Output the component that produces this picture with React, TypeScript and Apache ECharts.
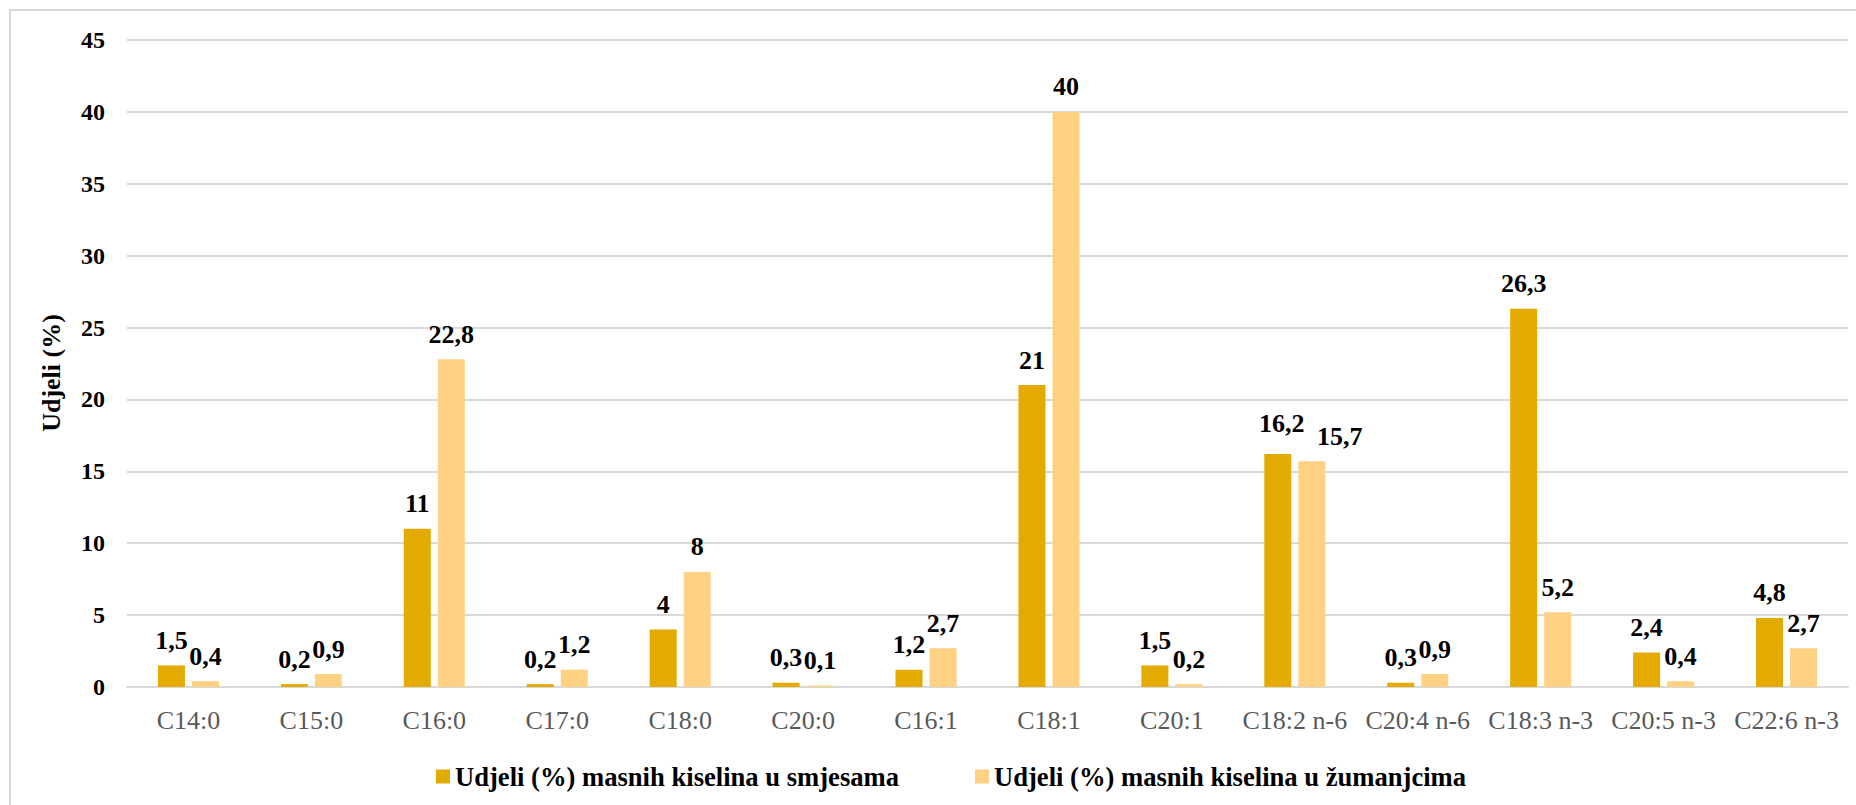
import React, { useEffect, useRef } from "react";
import * as echarts from "echarts";

const categories = [
  "C14:0", "C15:0", "C16:0", "C17:0", "C18:0", "C20:0", "C16:1",
  "C18:1", "C20:1", "C18:2 n-6", "C20:4 n-6", "C18:3 n-3", "C20:5 n-3", "C22:6 n-3",
];
const smjesama = [1.5, 0.2, 11, 0.2, 4, 0.3, 1.2, 21, 1.5, 16.2, 0.3, 26.3, 2.4, 4.8];
const zumanjcima = [0.4, 0.9, 22.8, 1.2, 8, 0.1, 2.7, 40, 0.2, 15.7, 0.9, 5.2, 0.4, 2.7];
const seriesNames = [
  "Udjeli (%) masnih kiselina u smjesama",
  "Udjeli (%) masnih kiselina u žumanjcima",
];
const yAxisName = "Udjeli (%)";

const FONT = "'Liberation Serif', 'Times New Roman', serif";

export default function App() {
  const ref = useRef<HTMLDivElement>(null);
  useEffect(() => {
    if (!ref.current) return;
    const chart = echarts.init(ref.current, undefined, { renderer: "svg" });
    const fmt = (p: any) => String(p.value).replace(".", ",");
    const labelBase = {
      show: true,
      position: "top",
      distance: 12,
      color: "#000",
      fontFamily: FONT,
      fontWeight: "bold",
      fontSize: 26,
      formatter: fmt,
    };
    chart.setOption({
      animation: false,
      backgroundColor: "#fff",
      graphic: [
        {
          type: "rect",
          shape: { x: 10, y: 10, width: 1900, height: 1000 },
          style: { fill: "none", stroke: "#d9d9d9", lineWidth: 2 },
          silent: true,
        },
        {
          type: "text",
          x: 51,
          y: 373,
          rotation: Math.PI / 2,
          style: {
            text: yAxisName,
            fontFamily: FONT,
            fontWeight: "bold",
            fontSize: 26,
            fill: "#000",
            align: "center",
            verticalAlign: "middle",
          },
          silent: true,
        },
      ],
      grid: { left: 127, right: 8, top: 40, bottom: 118 },
      legend: {
        left: 431,
        top: 758,
        itemWidth: 14,
        itemHeight: 14,
        itemGap: 76,
        icon: "rect",
        textStyle: { fontFamily: FONT, fontWeight: "bold", fontSize: 26.6, color: "#000" },
        data: seriesNames,
      },
      xAxis: {
        type: "category",
        data: categories,
        axisLine: { lineStyle: { color: "#d9d9d9", width: 2 } },
        axisTick: { show: false },
        axisLabel: {
          color: "#595959",
          fontFamily: FONT,
          fontSize: 26,
          margin: 20,
          interval: 0,
        },
      },
      yAxis: {
        type: "value",
        min: 0,
        max: 45,
        interval: 5,
        axisLine: { show: false },
        axisTick: { show: false },
        axisLabel: {
          color: "#000",
          fontFamily: FONT,
          fontWeight: "bold",
          fontSize: 24,
          margin: 22,
        },
        splitLine: { lineStyle: { color: "#d9d9d9", width: 2 } },
      },
      series: [
        {
          name: seriesNames[0],
          type: "bar",
          data: smjesama.map((v, i) =>
            i === 9 ? { value: v, label: { offset: [4, -6] } } : v
          ),
          barWidth: 27,
          barGap: "26%",
          itemStyle: { color: "#E3AA00" },
          label: labelBase,
        },
        {
          name: seriesNames[1],
          type: "bar",
          data: zumanjcima.map((v, i) =>
            i === 9 ? { value: v, label: { offset: [28, 0] } } : v
          ),
          barWidth: 27,
          barGap: "26%",
          itemStyle: { color: "#FFD183" },
          label: labelBase,
        },
      ],
    });
    return () => chart.dispose();
  }, []);
  return (
    <div
      ref={ref}
      style={{ position: "absolute", left: 0, top: 0, width: 1856, height: 805 }}
    />
  );
}
